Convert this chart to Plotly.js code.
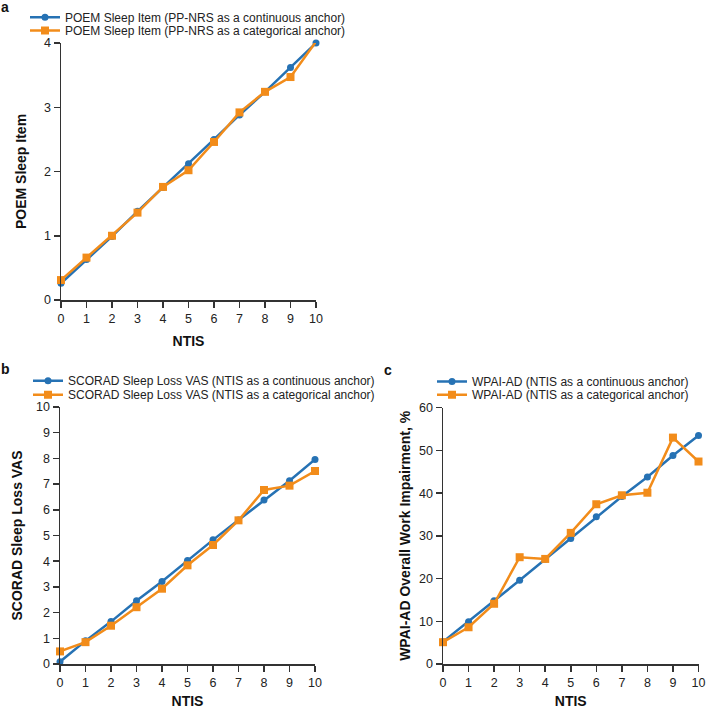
<!DOCTYPE html>
<html>
<head>
<meta charset="utf-8">
<script src="https://cdn.plot.ly/plotly-3.0.1.min.js"></script>
<style>html,body{margin:0;padding:0;background:#fff}#chart{width:706px;height:709px}</style>
</head>
<body>
<div id="chart"></div>
<script>
const ntis = [0,1,2,3,4,5,6,7,8,9,10];
const xTicks = [0,1,2,3,4,5,6,7,8,9,10];

const poemContinuous = [0.26, 0.63, 0.99, 1.38, 1.75, 2.12, 2.50, 2.88, 3.24, 3.62, 4.00];
const poemCategorical = [0.31, 0.66, 1.00, 1.36, 1.76, 2.02, 2.46, 2.92, 3.24, 3.47, 4.02];

const scoradContinuous = [0.09, 0.90, 1.65, 2.46, 3.21, 4.03, 4.83, 5.60, 6.38, 7.13, 7.96];
const scoradCategorical = [0.49, 0.85, 1.49, 2.21, 2.93, 3.84, 4.63, 5.59, 6.77, 6.94, 7.51];

const wpaiContinuous = [5.2, 9.9, 14.8, 19.6, 24.5, 29.4, 34.5, 39.2, 43.8, 48.8, 53.5];
const wpaiCategorical = [5.1, 8.6, 14.1, 25.0, 24.6, 30.7, 37.4, 39.5, 40.1, 53.0, 47.4];

const names = {
  a1: 'POEM Sleep Item (PP-NRS as a continuous anchor)',
  a2: 'POEM Sleep Item (PP-NRS as a categorical anchor)',
  b1: 'SCORAD Sleep Loss VAS (NTIS as a continuous anchor)',
  b2: 'SCORAD Sleep Loss VAS (NTIS as a categorical anchor)',
  c1: 'WPAI-AD (NTIS as a continuous anchor)',
  c2: 'WPAI-AD (NTIS as a categorical anchor)'
};

const BLUE = '#2672b4';
const ORANGE = '#f28c1a';
const FONT = 'Liberation Sans, Arial, sans-serif';

function tr(y, name, color, symbol, xa, ya, leg) {
  return {
    x: ntis, y: y, name: name, type: 'scatter', mode: 'lines+markers',
    xaxis: xa, yaxis: ya, legend: leg, cliponaxis: false,
    line: {color: color, width: 2.5},
    marker: {color: color, symbol: symbol, size: symbol === 'square' ? 8 : 7}
  };
}

const data = [
  tr(poemContinuous, names.a1, BLUE, 'circle', 'x', 'y', 'legend'),
  tr(poemCategorical, names.a2, ORANGE, 'square', 'x', 'y', 'legend2'),
  tr(scoradContinuous, names.b1, BLUE, 'circle', 'x2', 'y2', 'legend3'),
  tr(scoradCategorical, names.b2, ORANGE, 'square', 'x2', 'y2', 'legend4'),
  tr(wpaiContinuous, names.c1, BLUE, 'circle', 'x3', 'y3', 'legend5'),
  tr(wpaiCategorical, names.c2, ORANGE, 'square', 'x3', 'y3', 'legend6')
];

function xax(domain, anchor, standoff) {
  return {
    domain: domain, anchor: anchor, range: [0, 10], tickvals: xTicks, ticktext: xTicks.map(String),
    showgrid: false, zeroline: false, showline: true, linecolor: '#333', linewidth: 1.5,
    ticks: 'outside', ticklen: 6, tickwidth: 1.5, tickcolor: '#333', ticklabeloverflow: 'allow',
    tickfont: {family: FONT, size: 12.5, color: '#222'},
    title: {text: 'NTIS', font: {family: FONT, size: 14, color: '#111', weight: 'bold'}, standoff: standoff}
  };
}
function yax(domain, anchor, range, dtick, title, standoff) {
  return {
    domain: domain, anchor: anchor, range: range, dtick: dtick,
    showgrid: false, zeroline: false, showline: true, linecolor: '#333', linewidth: 1.5,
    ticks: 'outside', ticklen: 6, tickwidth: 1.5, tickcolor: '#333', ticklabeloverflow: 'allow',
    tickfont: {family: FONT, size: 12.5, color: '#222'},
    title: {text: title, font: {family: FONT, size: 14, color: '#111', weight: 'bold'}, standoff: standoff}
  };
}
const W = 706, H = 709;
function leg(xpx, toppx) {
  return {x: xpx / W, y: (H - toppx) / H, xanchor: 'left', yanchor: 'top', bgcolor: 'rgba(0,0,0,0)',
    font: {family: FONT, size: 12, color: '#222'}, itemwidth: 30};
}

const layout = {
  width: W, height: H, margin: {l: 0, r: 0, t: 0, b: 0},
  paper_bgcolor: '#fff', plot_bgcolor: '#fff', showlegend: true,
  font: {family: FONT},
  xaxis: xax([61/W, 316/W], 'y', 11),
  yaxis: yax([(H-300)/H, (H-43)/H], 'x', [0, 4], 1, 'POEM Sleep Item', 14),
  xaxis2: xax([60/W, 315/W], 'y2', 14),
  yaxis2: yax([(H-664)/H, (H-407)/H], 'x2', [0, 10], 1, 'SCORAD Sleep Loss VAS', 10),
  xaxis3: xax([443/W, 698.5/W], 'y3', 14),
  yaxis3: yax([(H-664)/H, (H-407.7)/H], 'x3', [0, 60], 10, 'WPAI-AD Overall Work Impairment, %', 5),
  legend: leg(25, 2.7),
  legend2: leg(25, 16),
  legend3: leg(28, 366.3),
  legend4: leg(28, 380.3),
  legend5: leg(432, 367),
  legend6: leg(432, 380.3),
  annotations: [
    {text: '<b>a</b>', x: 0, y: 1, xref: 'paper', yref: 'paper', xanchor: 'left', yanchor: 'top', showarrow: false, font: {family: FONT, size: 14, color: '#111'}, xshift: -1, yshift: 3},
    {text: '<b>b</b>', x: 0, y: (H-360)/H, xref: 'paper', yref: 'paper', xanchor: 'left', yanchor: 'top', showarrow: false, font: {family: FONT, size: 14, color: '#111'}, xshift: -1, yshift: 1},
    {text: '<b>c</b>', x: 382/W, y: (H-360)/H, xref: 'paper', yref: 'paper', xanchor: 'left', yanchor: 'top', showarrow: false, font: {family: FONT, size: 14, color: '#111'}, yshift: 0}
  ]
};

Plotly.newPlot('chart', data, layout, {displayModeBar: false, staticPlot: true});
</script>
</body>
</html>
